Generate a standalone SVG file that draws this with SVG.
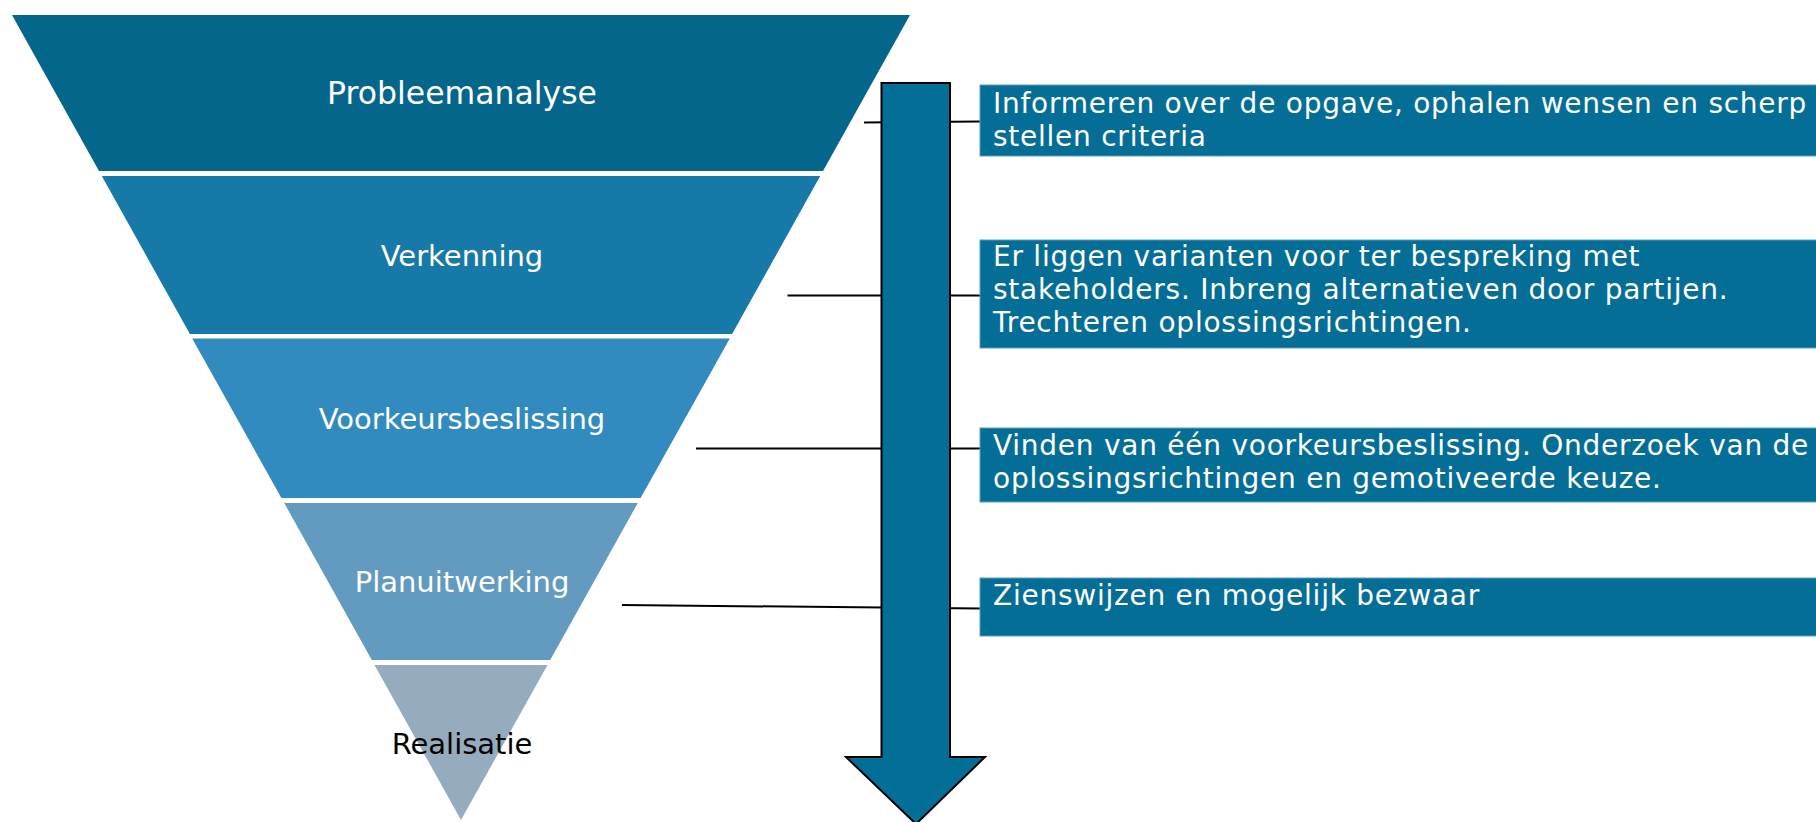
<svg xmlns="http://www.w3.org/2000/svg" width="1816" height="822" viewBox="0 0 1816 822">
  <style>
    .lbl { font-family: "DejaVu Sans", "Liberation Sans", sans-serif; font-size: 29px; text-anchor: middle; fill: #ffffff; }
    .box { fill: #046E96; stroke: #5B9DBE; stroke-width: 1; }
    .btxt { font-family: "DejaVu Sans", "Liberation Sans", sans-serif; font-size: 28px; letter-spacing: 0.75px; fill: #ffffff; }
    .conn { stroke: #000000; stroke-width: 2; fill: none; }
  </style>
  <rect width="1816" height="822" fill="#ffffff"/>

  <g id="funnel">
    <g id="probleemanalyse">
      <polygon points="12,15 910,15 823,171 99,171" fill="#04668A"/>
      <text class="lbl" x="462" y="104" style="font-size:31.5px">Probleemanalyse</text>
    </g>
    <g id="verkenning">
      <polygon points="101.8,176 820.2,176 732.1,334 189.9,334" fill="#1779A8"/>
      <text class="lbl" x="462" y="266">Verkenning</text>
    </g>
    <g id="voorkeursbeslissing">
      <polygon points="192.2,338.5 729.8,338.5 640.6,498 281.4,498" fill="#318BBF"/>
      <text class="lbl" x="462" y="429">Voorkeursbeslissing</text>
    </g>
    <g id="planuitwerking">
      <polygon points="284.2,503 637.8,503 550.2,660 371.8,660" fill="#629BBF"/>
      <text class="lbl" x="462" y="592">Planuitwerking</text>
    </g>
    <g id="realisatie">
      <polygon points="374.5,665 547.5,665 461,820" fill="#95ACBF"/>
      <text class="lbl" x="462" y="754" style="fill:#000000">Realisatie</text>
    </g>
  </g>

  <g id="connectors">
    <line class="conn" x1="864" y1="122.5" x2="980" y2="121.5"/>
    <line class="conn" x1="787.5" y1="295.5" x2="980" y2="295.5"/>
    <line class="conn" x1="696" y1="448.5" x2="980" y2="448.5"/>
    <line class="conn" x1="622" y1="605" x2="980" y2="608.5"/>
  </g>

  <g id="arrow">
    <polygon points="881.5,83 950,83 950,757 985,757 916,824 846,757 881.5,757" fill="#036E96" stroke="#000000" stroke-width="2" stroke-linejoin="miter"/>
  </g>

  <g id="box1">
    <rect class="box" x="980" y="85" width="840" height="71"/>
    <text class="btxt" x="993" y="113">Informeren over de opgave, ophalen wensen en scherp</text>
    <text class="btxt" x="993" y="146">stellen criteria</text>
  </g>
  <g id="box2">
    <rect class="box" x="980" y="240" width="840" height="108"/>
    <text class="btxt" x="993" y="266">Er liggen varianten voor ter bespreking met</text>
    <text class="btxt" x="993" y="299">stakeholders. Inbreng alternatieven door partijen.</text>
    <text class="btxt" x="993" y="332">Trechteren oplossingsrichtingen.</text>
  </g>
  <g id="box3">
    <rect class="box" x="980" y="428" width="840" height="74"/>
    <text class="btxt" x="993" y="455">Vinden van één voorkeursbeslissing. Onderzoek van de</text>
    <text class="btxt" x="993" y="488">oplossingsrichtingen en gemotiveerde keuze.</text>
  </g>
  <g id="box4">
    <rect class="box" x="980" y="578" width="840" height="58"/>
    <text class="btxt" x="993" y="605">Zienswijzen en mogelijk bezwaar</text>
  </g>
</svg>
